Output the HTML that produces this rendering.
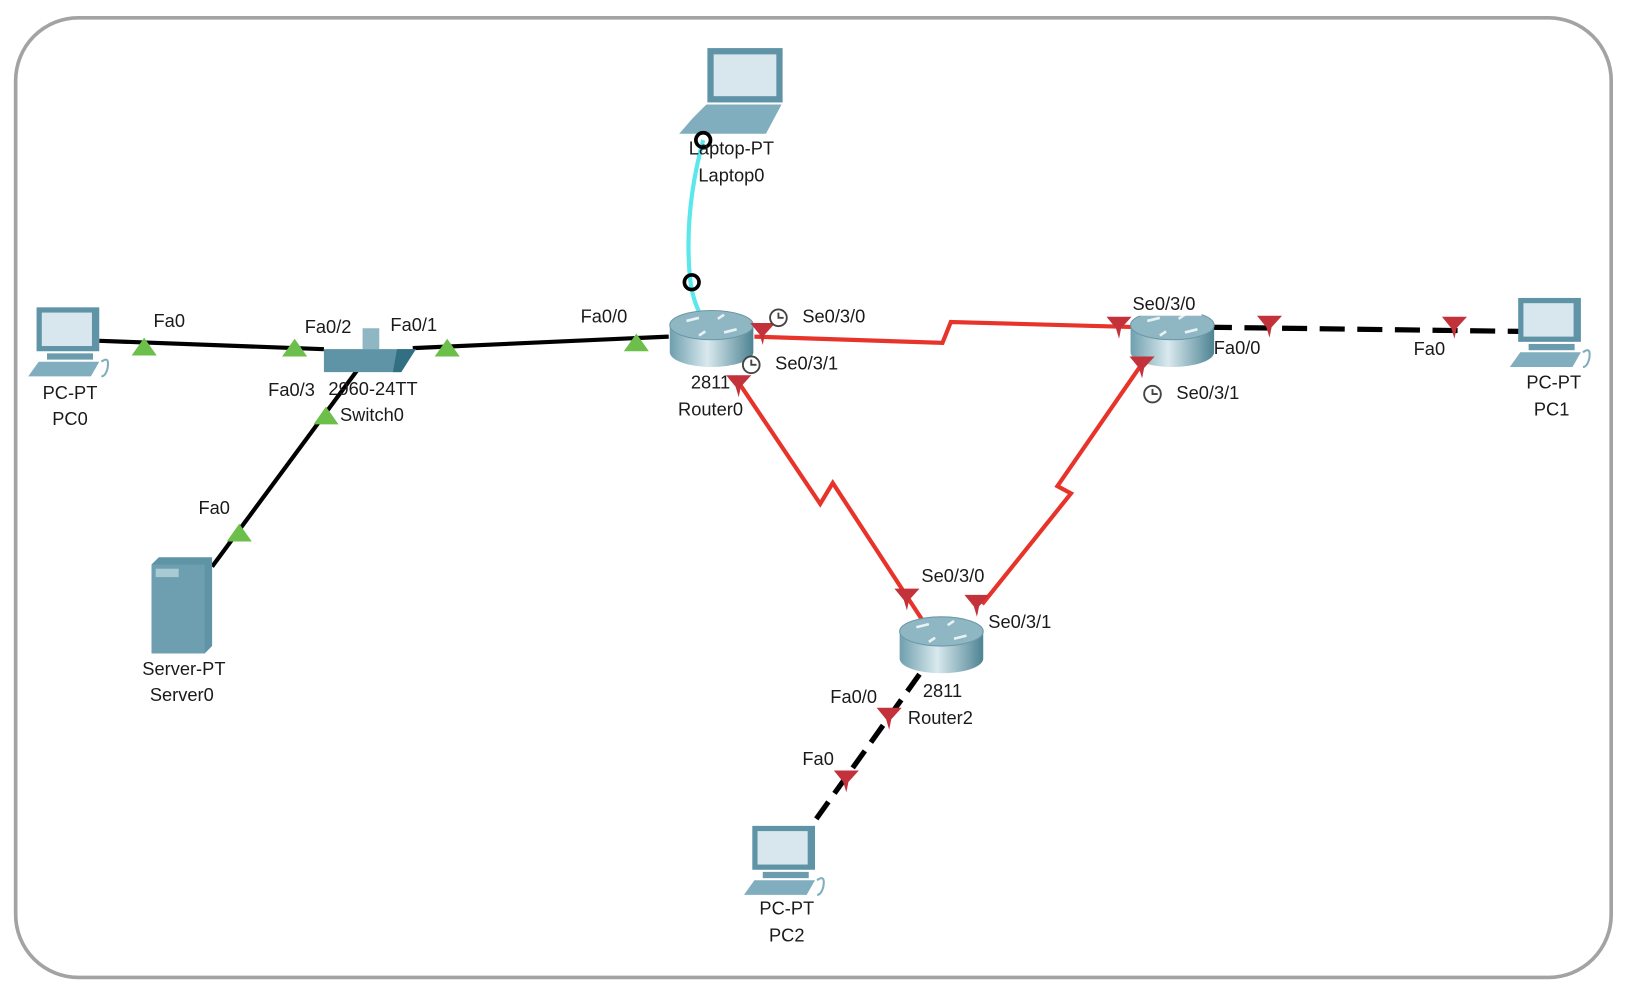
<!DOCTYPE html>
<html><head><meta charset="utf-8"><style>
html,body{margin:0;padding:0;background:#fff;width:1630px;height:990px;overflow:hidden}
svg{display:block}
text{font-family:"Liberation Sans",sans-serif;font-size:17.5px;fill:#1a1a1a;text-anchor:middle;dominant-baseline:middle}
</style></head><body>
<svg width="1630" height="990" viewBox="0 0 1560 947" preserveAspectRatio="none" xmlns="http://www.w3.org/2000/svg">
<defs>
<linearGradient id="rg" x1="0" x2="1" y1="0" y2="0">
<stop offset="0" stop-color="#6f9fae"/><stop offset="0.45" stop-color="#d9e9ee"/><stop offset="1" stop-color="#4d8393"/>
</linearGradient>
<g id="router">
<path d="M-40,0 v26 a40,14 0 0 0 80,0 v-26 z" fill="url(#rg)"/>
<ellipse cx="0" cy="0" rx="40" ry="14" fill="#8fb6c3" stroke="#6b98a6"/>
<path d="M-24,-4 l12,-3 M24,4 l-12,3 M-6,6 l-6,4 M6,-6 l6,-4" stroke="#e8f2f5" stroke-width="2.5"/>
</g>
<g id="pc">
<rect x="10" y="0" width="60" height="42" fill="#5f93a6"/>
<rect x="15" y="5" width="48" height="32" fill="#d8e6ee"/>
<rect x="20" y="44" width="44" height="6" fill="#6a9cae"/>
<path d="M2,66 L12,52 L70,52 L62,66 Z" fill="#80aebe"/>
<path d="M72,52 q8,-6 6,6 q-2,8 -6,8" fill="none" stroke="#80aebe" stroke-width="2"/>
</g>
<g id="gt"><path d="M-12,8 L0,-9 L12,8 Z" fill="#6cbf4a"/></g>
<g id="rt"><path d="M-12,-9 L12,-9 L2,2 L0,12 L-3,2 Z" fill="#c3323a"/></g>
<g id="clk"><circle r="8" fill="#fff" stroke="#444" stroke-width="1.8"/><path d="M0,-5 V0 H5" fill="none" stroke="#444" stroke-width="1.8"/></g>
</defs>

<rect x="15" y="17" width="1527" height="918" rx="60" ry="60" fill="#fff" stroke="#a3a3a3" stroke-width="3.5"/>

<path d="M95,326 L310,334" stroke="#000" stroke-width="4"/>
<path d="M395,333 L640,322" stroke="#000" stroke-width="4"/>
<path d="M342,354 L203,542" stroke="#000" stroke-width="4"/>
<path d="M673,134 Q655,200 660,262 Q662,285 670,300" fill="none" stroke="#5be8ec" stroke-width="4"/>
<path d="M722,322 L902,328 L910,308 L1090,313" fill="none" stroke="#e8332a" stroke-width="4"/>
<path d="M703,360 L785,482 L797,462 L882,592" fill="none" stroke="#e8332a" stroke-width="4"/>
<path d="M1095,345 L1012,465 L1025,472 L940,578" fill="none" stroke="#e8332a" stroke-width="4"/>
<path d="M1155,313 L1455,317" stroke="#000" stroke-width="5" stroke-dasharray="24,12"/>
<path d="M880,645 L775,792" stroke="#000" stroke-width="5" stroke-dasharray="20,10"/>

<use href="#pc" x="25" y="294"/>
<use href="#pc" x="1443" y="285"/>
<use href="#pc" x="710" y="790"/>
<rect x="347" y="314" width="16" height="20" fill="#8fb6c3"/>
<path d="M310,334 L398,334 L384,356 L310,356 Z" fill="#5f93a6"/>
<path d="M380,334 L398,334 L384,356 L376,356 Z" fill="#336f82"/>
<path d="M145,540 L152,533 L203,533 L203,618 L196,625 L145,625 Z" fill="#5f93a6"/>
<rect x="145" y="540" width="51" height="85" fill="#6d9fb0"/>
<rect x="149" y="544" width="22" height="8" fill="#a8cad5"/>
<rect x="677" y="46" width="72" height="52" fill="#5f93a6"/>
<rect x="683" y="52" width="60" height="40" fill="#d8e6ee"/>
<path d="M663,113 L676,100 L748,100 L733,128 L650,128 Z" fill="#80aebe"/>
<use href="#router" x="681" y="311"/>
<use href="#router" x="1122" y="311"/>
<use href="#router" x="901" y="604"/>

<circle cx="673" cy="134" r="7" fill="none" stroke="#000" stroke-width="3.5"/>
<circle cx="662" cy="270" r="7" fill="none" stroke="#000" stroke-width="3.5"/>

<use href="#gt" x="138" y="332"/>
<use href="#gt" x="282" y="333"/>
<use href="#gt" x="428" y="333"/>
<use href="#gt" x="609" y="328"/>
<use href="#gt" x="312" y="398"/>
<use href="#gt" x="229" y="510"/>
<use href="#rt" x="730" y="318"/>
<use href="#rt" x="1071" y="312"/>
<use href="#rt" x="1215" y="311"/>
<use href="#rt" x="1392" y="312"/>
<use href="#rt" x="1093" y="350"/>
<use href="#rt" x="707" y="368"/>
<use href="#rt" x="868" y="572"/>
<use href="#rt" x="935" y="578"/>
<use href="#rt" x="851" y="686"/>
<use href="#rt" x="810" y="746"/>

<use href="#clk" x="745" y="304"/>
<use href="#clk" x="719" y="349"/>
<use href="#clk" x="1103" y="377"/>

<text x="162" y="308">Fa0</text>
<text x="314" y="314">Fa0/2</text>
<text x="396" y="312">Fa0/1</text>
<text x="279" y="374">Fa0/3</text>
<text x="357" y="373">2960-24TT</text>
<text x="356" y="398">Switch0</text>
<text x="67" y="377">PC-PT</text>
<text x="67" y="402">PC0</text>
<text x="205" y="487">Fa0</text>
<text x="176" y="641">Server-PT</text>
<text x="174" y="666">Server0</text>
<text x="578" y="304">Fa0/0</text>
<text x="700" y="143">Laptop-PT</text>
<text x="700" y="169">Laptop0</text>
<text x="680" y="367">2811</text>
<text x="680" y="393">Router0</text>
<text x="798" y="304">Se0/3/0</text>
<text x="772" y="349">Se0/3/1</text>
<rect x="1080" y="280" width="70" height="22" fill="#fff"/>
<text x="1114" y="292">Se0/3/0</text>
<text x="1184" y="334">Fa0/0</text>
<text x="1156" y="377">Se0/3/1</text>
<text x="1368" y="335">Fa0</text>
<text x="1487" y="367">PC-PT</text>
<text x="1485" y="393">PC1</text>
<text x="912" y="552">Se0/3/0</text>
<text x="976" y="596">Se0/3/1</text>
<text x="902" y="662">2811</text>
<text x="900" y="688">Router2</text>
<text x="817" y="668">Fa0/0</text>
<text x="783" y="727">Fa0</text>
<text x="753" y="870">PC-PT</text>
<text x="753" y="896">PC2</text>
</svg>
</body></html>
